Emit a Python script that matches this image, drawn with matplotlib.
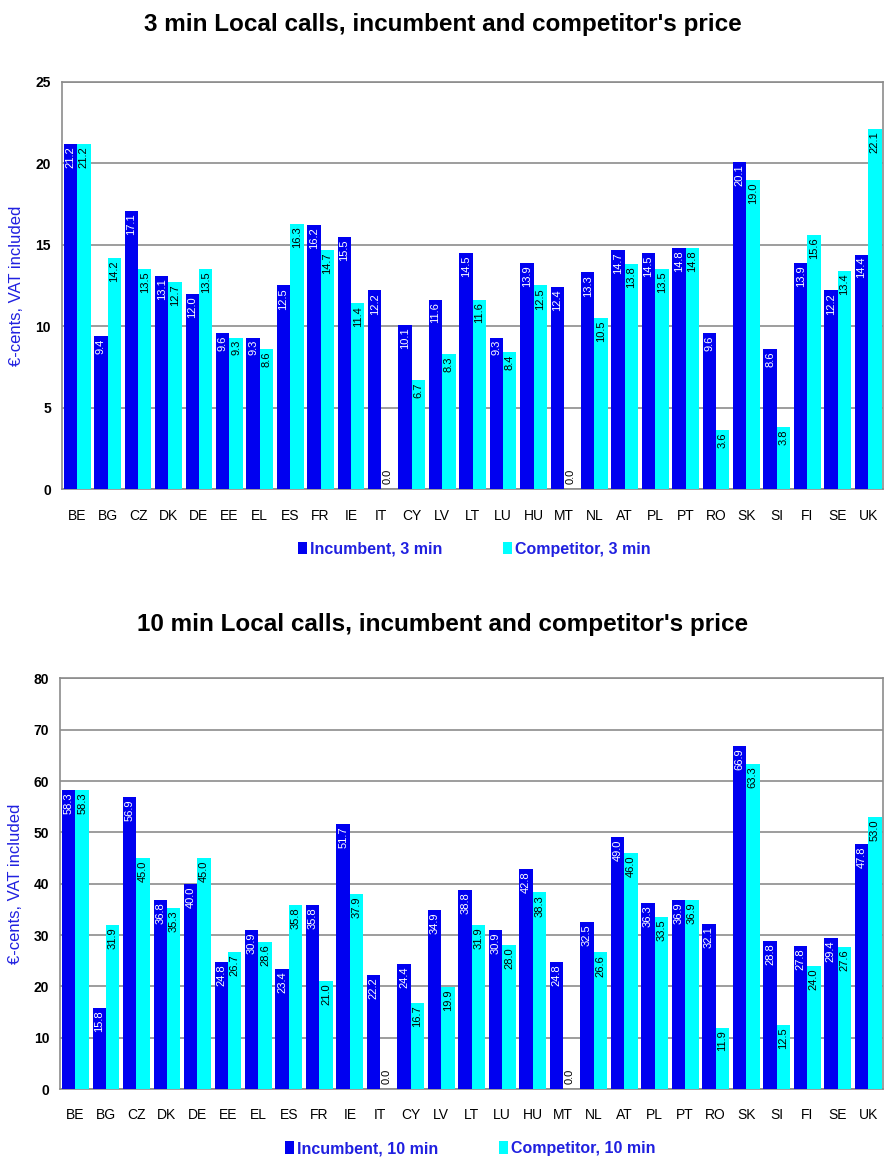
import numpy as np
import matplotlib
matplotlib.use("Agg")
import matplotlib.pyplot as plt

plt.rcParams["font.family"] = ["Liberation Sans", "DejaVu Sans"]

countries = ["BE", "BG", "CZ", "DK", "DE", "EE", "EL", "ES", "FR", "IE", "IT", "CY", "LV", "LT",
             "LU", "HU", "MT", "NL", "AT", "PL", "PT", "RO", "SK", "SI", "FI", "SE", "UK"]

inc_3 = [21.2, 9.4, 17.1, 13.1, 12.0, 9.6, 9.3, 12.5, 16.2, 15.5, 12.2, 10.1, 11.6, 14.5,
         9.3, 13.9, 12.4, 13.3, 14.7, 14.5, 14.8, 9.6, 20.1, 8.6, 13.9, 12.2, 14.4]
comp_3 = [21.2, 14.2, 13.5, 12.7, 13.5, 9.3, 8.6, 16.3, 14.7, 11.4, 0.0, 6.7, 8.3, 11.6,
          8.4, 12.5, 0.0, 10.5, 13.8, 13.5, 14.8, 3.6, 19.0, 3.8, 15.6, 13.4, 22.1]

inc_10 = [58.3, 15.8, 56.9, 36.8, 40.0, 24.8, 30.9, 23.4, 35.8, 51.7, 22.2, 24.4, 34.9, 38.8,
          30.9, 42.8, 24.8, 32.5, 49.0, 36.3, 36.9, 32.1, 66.9, 28.8, 27.8, 29.4, 47.8]
comp_10 = [58.3, 31.9, 45.0, 35.3, 45.0, 26.7, 28.6, 35.8, 21.0, 37.9, 0.0, 16.7, 19.9, 31.9,
           28.0, 38.3, 0.0, 26.6, 46.0, 33.5, 36.9, 11.9, 63.3, 12.5, 24.0, 27.6, 53.0]

INC_COLOR = "#0000f0"
COMP_COLOR = "#00ffff"
TEXT_BLUE = "#2020e0"
GRID = "#8c8c8c"


def draw_panel(ax, inc, comp, ymax, step, minutes, legend_x, legend_y):
    x = np.arange(len(countries))
    w = 0.44
    ax.bar(x - w / 2, inc, width=w, color=INC_COLOR, zorder=3)
    ax.bar(x + w / 2, comp, width=w, color=COMP_COLOR, zorder=3)

    off = ymax * 0.006
    for xi, v in zip(x, inc):
        ax.text(xi - w / 2, v - off, f"{v:.1f}", rotation=90, ha="center", va="top",
                fontsize=8, color="white", zorder=4)
    for xi, v in zip(x, comp):
        if v == 0:
            ax.text(xi + w / 2, off * 2, f"{v:.1f}", rotation=90, ha="center", va="bottom",
                    fontsize=8, color="black", zorder=4)
        else:
            ax.text(xi + w / 2, v - off, f"{v:.1f}", rotation=90, ha="center", va="top",
                    fontsize=8, color="black", zorder=4)

    ax.set_xlim(-0.5, len(countries) - 0.5)
    ax.set_ylim(0, ymax)
    ax.set_yticks(np.arange(0, ymax + 1, step))
    ax.yaxis.grid(True, color=GRID, linewidth=1.2, zorder=0)
    ax.set_xticks(x)
    ax.set_xticklabels(countries, fontsize=10)
    ax.tick_params(axis="x", length=0, pad=14)
    ax.tick_params(axis="y", length=0, labelsize=10, pad=8)
    for t in ax.get_yticklabels():
        t.set_fontweight("bold")
    for s in ax.spines.values():
        s.set_color(GRID)
        s.set_linewidth(1.2)
    ax.set_ylabel("€-cents, VAT included", color=TEXT_BLUE, fontsize=12, labelpad=8)

    leg = ax.legend(["Incumbent, " + minutes, "Competitor, " + minutes],
                    loc="center", bbox_to_anchor=(legend_x, legend_y), ncol=2, frameon=False,
                    prop={"size": 11.5, "weight": "bold"}, handlelength=0.55, handleheight=0.8,
                    handletextpad=0.2, columnspacing=3.8)
    for t in leg.get_texts():
        t.set_color(TEXT_BLUE)


fig = plt.figure(figsize=(8.86, 11.6), dpi=100)
ax1 = fig.add_axes([0.070, 0.5784, 0.927, 0.351])
ax2 = fig.add_axes([0.068, 0.0612, 0.929, 0.354])

draw_panel(ax1, inc_3, comp_3, 25, 5, "3 min", 0.502, -0.148)
draw_panel(ax2, inc_10, comp_10, 80, 10, "10 min", 0.498, -0.145)

fig.text(0.5, 0.979, "3 min Local calls, incumbent and competitor's price",
         ha="center", va="center", fontsize=17.5, fontweight="bold")
fig.text(0.5, 0.462, "10 min Local calls, incumbent and competitor's price",
         ha="center", va="center", fontsize=17.5, fontweight="bold")

fig.savefig("out.png", dpi=100)
